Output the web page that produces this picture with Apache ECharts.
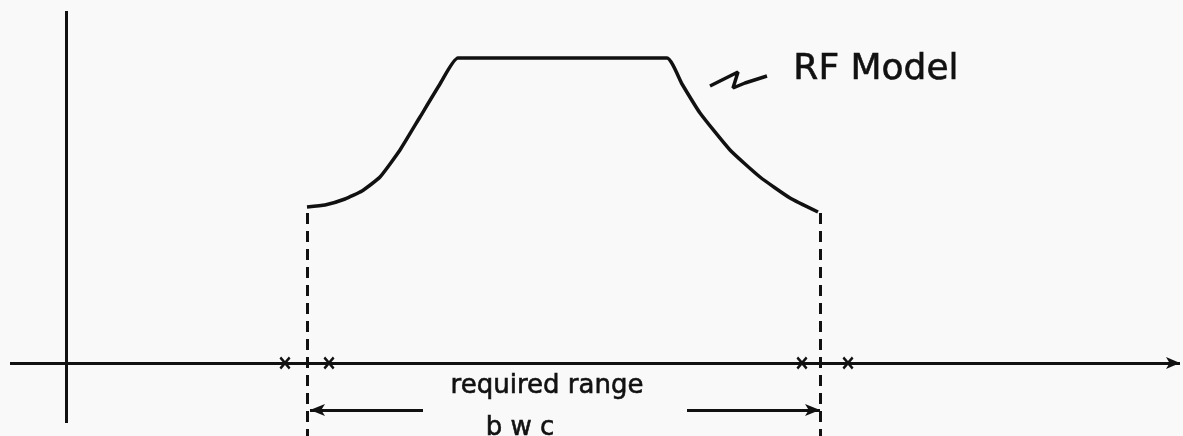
<!DOCTYPE html>
<html>
<head>
<meta charset="utf-8">
<script src="https://cdn.jsdelivr.net/npm/echarts@6/dist/echarts.min.js"></script>
<style>
  html, body { margin: 0; padding: 0; background: #f9f9f9; }
  #main { width: 1183px; height: 436px; }
</style>
</head>
<body>
<div id="main"></div>
<script>
// response curve of the RF model (frequency, level)
var curveX = [241, 259, 279, 296, 314, 334, 354, 374, 392, 601, 616, 634, 664, 694, 724, 752];
var curveY = [156, 158, 164, 172, 186, 213, 246, 279, 305, 305, 279, 250, 213, 186, 165, 151];

// band edges of the required range
var edgeX = [241, 754];
var edgeTop = 150, edgeBottom = -73;

// x marks on the frequency axis
var markX = [219, 263, 736, 782];

// squiggle pointing at the curve
var leaderX = [644, 656, 672, 667, 679, 701];
var leaderY = [277, 283, 291, 275, 280, 287];

// dimension arrows
var dimY = -47;
var dimLeft = [357, 244];
var dimRight = [621, 754];

// texts
var labels = [
  { name: 'RF Model', value: [810, 293], size: 36 },
  { name: 'required range', value: [481, -23], size: 26 },
  { name: 'b w c', value: [454, -65], size: 26 }
];

var ink = '#111111';

var curveData = curveX.map(function (x, i) { return [x, curveY[i]]; });
var leaderData = leaderX.map(function (x, i) { return [x, leaderY[i]]; });

var chart = echarts.init(document.getElementById('main'));
var option = {
  backgroundColor: '#f9f9f9',
  animation: false,
  grid: { left: 0, right: 0, top: 0, bottom: 0 },
  xAxis: { type: 'value', min: -66, max: 1117, show: false },
  yAxis: { type: 'value', min: -73, max: 363, show: false },
  series: [
    {
      type: 'line',
      data: [],
      markLine: {
        silent: true,
        label: { show: false },
        lineStyle: { color: ink, width: 3, type: 'solid' },
        symbol: ['none', 'none'],
        data: [
          [{ coord: [-56, 0], symbol: 'none' }, { coord: [1114, 0], symbol: 'arrow', symbolSize: [9, 14] }],
          [{ coord: [0, -60] }, { coord: [0, 352] }],
          [{ coord: [dimLeft[0], dimY], symbol: 'none' }, { coord: [dimLeft[1], dimY], symbol: 'arrow', symbolSize: [9, 15] }],
          [{ coord: [dimRight[0], dimY], symbol: 'none' }, { coord: [dimRight[1], dimY], symbol: 'arrow', symbolSize: [9, 15] }],
          [{ coord: [edgeX[0], edgeTop], lineStyle: { type: [11, 7], width: 3 } }, { coord: [edgeX[0], edgeBottom] }],
          [{ coord: [edgeX[1], edgeTop], lineStyle: { type: [11, 7], width: 3 } }, { coord: [edgeX[1], edgeBottom] }]
        ]
      }
    },
    {
      name: 'RF Model',
      type: 'line',
      data: curveData,
      showSymbol: false,
      smooth: 0.15,
      lineStyle: { color: ink, width: 3.5 }
    },
    {
      type: 'line',
      data: leaderData,
      showSymbol: false,
      lineStyle: { color: ink, width: 3.5 }
    },
    {
      type: 'scatter',
      data: markX.map(function (x) { return [x, 0]; }),
      symbol: 'path://M0,1.5L1.5,0L5,3.5L8.5,0L10,1.5L6.5,5L10,8.5L8.5,10L5,6.5L1.5,10L0,8.5L3.5,5Z',
      symbolSize: [11, 13],
      itemStyle: { color: ink, opacity: 1 }
    },
    {
      type: 'scatter',
      symbolSize: 0,
      itemStyle: { opacity: 1 },
      data: labels.map(function (l) {
        return {
          name: l.name,
          value: l.value,
          label: {
            show: true,
            position: 'inside',
            formatter: '{b}',
            fontFamily: 'DejaVu Sans',
            fontSize: l.size,
            color: ink,
            textBorderColor: ink,
            textBorderWidth: 0.6
          }
        };
      })
    }
  ]
};
chart.setOption(option);
window.addEventListener('resize', function () {
  chart.resize();
});
</script>
</body>
</html>
